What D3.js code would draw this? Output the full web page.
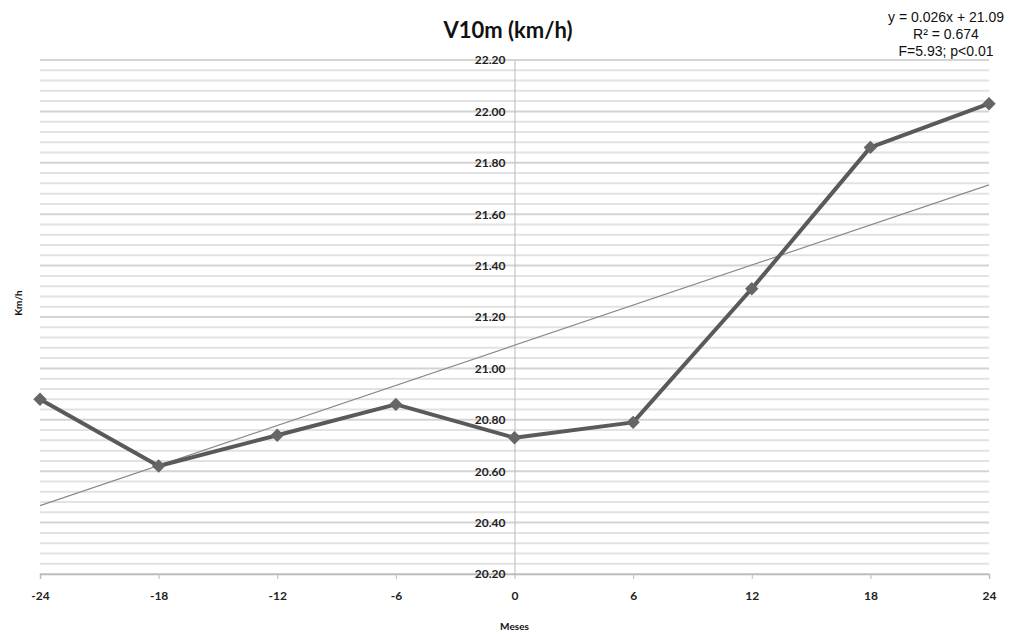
<!DOCTYPE html>
<html>
<head>
<meta charset="utf-8">
<script src="https://cdn.jsdelivr.net/npm/d3@7"></script>
<style>
  body { margin: 0; background: #fff; }
  text { font-family: "Lato", "Liberation Sans", sans-serif; }
</style>
</head>
<body>
<svg width="1013" height="634"></svg>
<script>
// values
const months = [-24, -18, -12, -6, 0, 6, 12, 18, 24];
const speed = [20.88, 20.62, 20.74, 20.86, 20.73, 20.79, 21.31, 21.86, 22.03];
const yTicks = [20.20, 20.40, 20.60, 20.80, 21.00, 21.20, 21.40, 21.60, 21.80, 22.00, 22.20];
const statLines = ['y = 0.026x + 21.09', 'R\u00b2 = 0.674', 'F=5.93; p<0.01'];
const SLOPE = 0.026;
const INTERCEPT = 21.09;

const LEFT = 40, RIGHT = 989, TOP = 60, BOTTOM = 574;

const svg = d3.select('svg');

const x = d3.scaleLinear().domain([-24, 24]).range([LEFT, RIGHT]);
const y = d3.scaleLinear().domain([20.2, 22.2]).range([BOTTOM, TOP]);

// grid every 0.04
const minor = d3.range(0, 51).map(i => 20.2 + i * 0.04);
svg.append('g').selectAll('line').data(minor).join('line')
    .attr('x1', LEFT).attr('x2', RIGHT)
    .attr('y1', d => y(d)).attr('y2', d => y(d))
    .attr('stroke', (d, i) => i % 5 === 0 ? '#d4d4d4' : '#e2e2e2')
    .attr('stroke-width', 2);

// x axis at the bottom
const xAxis = svg.append('g').attr('transform', `translate(0,${BOTTOM})`)
    .call(d3.axisBottom(x).tickValues(months).tickSize(5).tickPadding(12).tickFormat(d => String(d)));
xAxis.select('.domain').attr('stroke', '#bbb').attr('stroke-width', 1.5);
xAxis.selectAll('.tick line').attr('stroke', '#bbb');
xAxis.selectAll('text').attr('font-size', 12).attr('font-weight', 'bold').attr('fill', '#222')
    .style('font-family', '"Lato", "Liberation Sans", sans-serif');

// y axis crosses at zero
const yAxis = svg.append('g').attr('transform', `translate(${x(0)},0)`)
    .call(d3.axisLeft(y).tickValues(yTicks).tickSize(0).tickPadding(9).tickFormat(d3.format('.2f')));
yAxis.select('.domain').attr('stroke', '#bbb').attr('stroke-width', 1);
yAxis.selectAll('text').attr('font-size', 12).attr('font-weight', 'bold').attr('fill', '#222')
    .style('font-family', '"Lato", "Liberation Sans", sans-serif');

// trend line
svg.append('line')
    .attr('x1', x(-24)).attr('y1', y(INTERCEPT + SLOPE * -24))
    .attr('x2', x(24)).attr('y2', y(INTERCEPT + SLOPE * 24))
    .attr('stroke', '#8a8a8a').attr('stroke-width', 1.2);

// series
const pts = months.map((m, i) => ({m, v: speed[i]}));
svg.append('path').datum(pts)
    .attr('d', d3.line().x(d => x(d.m)).y(d => y(d.v)))
    .attr('fill', 'none').attr('stroke', '#5a5a5a').attr('stroke-width', 4)
    .attr('stroke-linejoin', 'round');

svg.append('g').selectAll('path').data(pts).join('path')
    .attr('d', d3.symbol(d3.symbolSquare, 90))
    .attr('transform', d => `translate(${x(d.m)},${y(d.v)}) rotate(45)`)
    .attr('fill', '#666');

// titles
svg.append('text').attr('x', 508).attr('y', 38).attr('text-anchor', 'middle')
    .attr('font-size', 22).attr('font-weight', 'bold').attr('fill', '#111')
    .text('V10m (km/h)');

svg.append('text').attr('x', x(0)).attr('y', 630).attr('text-anchor', 'middle')
    .attr('font-size', 10).attr('font-weight', 'bold').attr('fill', '#111')
    .text('Meses');

svg.append('text').attr('transform', 'translate(22,303) rotate(-90)').attr('text-anchor', 'middle')
    .attr('font-size', 10).attr('font-weight', 'bold').attr('fill', '#111')
    .text('Km/h');

svg.append('g').selectAll('text').data(statLines).join('text')
    .attr('x', 946).attr('y', (d, i) => 22 + i * 17).attr('text-anchor', 'middle')
    .attr('font-size', 14).attr('fill', '#111')
    .style('font-family', '"Liberation Sans", Arial, sans-serif')
    .text(d => d);
</script>
</body>
</html>
